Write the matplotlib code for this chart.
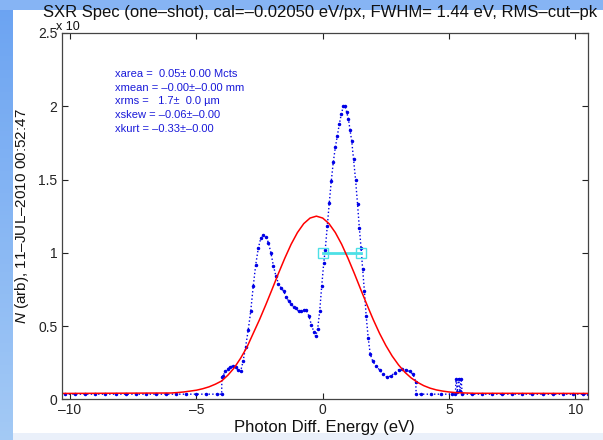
import numpy as np
import matplotlib
matplotlib.use("Agg")
from matplotlib import pyplot as plt
from matplotlib.patches import Rectangle

plt.rcParams['font.family'] = ['Liberation Sans', 'DejaVu Sans']
plt.rcParams['mathtext.fontset'] = 'custom'
plt.rcParams['mathtext.it'] = 'Liberation Sans:italic'
plt.rcParams['mathtext.rm'] = 'Liberation Sans'

# measured spectrum (units of 1e4 counts)
base_left_x = [-10.2, -9.8, -9.4, -9.0, -8.6, -8.2, -7.8, -7.4, -7.0, -6.6, -6.2,
               -5.8, -5.4, -5.0, -4.6, -4.2, -4.0]
base_left_y = [0.035] * len(base_left_x)

peak_x = [-3.99, -3.95, -3.85, -3.75, -3.65, -3.55, -3.45, -3.35, -3.25, -3.15,
          -3.05, -2.95, -2.85, -2.75, -2.65, -2.55, -2.45, -2.35, -2.25, -2.15,
          -2.05, -1.95, -1.85, -1.75, -1.65, -1.55, -1.45, -1.35, -1.25, -1.15,
          -1.05, -0.95, -0.85, -0.75, -0.65, -0.55, -0.45, -0.35, -0.28, -0.20,
          -0.12, -0.04, 0.04, 0.10, 0.18, 0.26, 0.34, 0.42, 0.50, 0.58,
          0.66, 0.74, 0.82, 0.88, 0.95, 1.02, 1.08, 1.15, 1.22, 1.30,
          1.38, 1.45, 1.52, 1.58, 1.65, 1.72, 1.80, 1.88, 1.98, 2.10,
          2.25, 2.40, 2.55, 2.70, 2.85, 3.00, 3.15, 3.30, 3.45, 3.58,
          3.68, 3.70]
peak_y = [0.15, 0.16, 0.19, 0.21, 0.22, 0.23, 0.22, 0.20, 0.19, 0.26,
          0.36, 0.47, 0.60, 0.77, 0.92, 1.03, 1.10, 1.12, 1.11, 1.07,
          1.00, 0.91, 0.84, 0.79, 0.76, 0.74, 0.70, 0.67, 0.65, 0.63,
          0.62, 0.60, 0.60, 0.61, 0.61, 0.57, 0.51, 0.46, 0.43, 0.48,
          0.60, 0.77, 0.93, 1.02, 1.18, 1.34, 1.49, 1.62, 1.72, 1.80,
          1.88, 1.95, 2.00, 2.00, 1.96, 1.91, 1.84, 1.76, 1.64, 1.50,
          1.33, 1.17, 1.03, 0.89, 0.74, 0.57, 0.42, 0.31, 0.26, 0.23,
          0.20, 0.17, 0.15, 0.16, 0.18, 0.20, 0.21, 0.20, 0.19, 0.17,
          0.12, 0.035]

base_right_x = [3.9, 4.3, 4.7, 5.1, 5.25, 5.28, 5.33, 5.38, 5.43, 5.48, 5.52,
                5.9, 6.3, 6.7, 7.1, 7.5, 7.9, 8.3, 8.7, 9.1, 9.5, 9.9, 10.3, 10.5]
base_right_y = [0.035, 0.035, 0.035, 0.035, 0.035, 0.14, 0.05, 0.14, 0.06, 0.14, 0.035,
                0.035, 0.035, 0.035, 0.035, 0.035, 0.035, 0.035, 0.035, 0.035,
                0.035, 0.035, 0.035, 0.035]

# gaussian fit curve
fit_x = [-10.3, -6.0, -5.75, -5.5, -5.25, -5.0, -4.75, -4.5, -4.25, -4.0, -3.75,
         -3.5, -3.25, -3.0, -2.75, -2.5, -2.25, -2.0, -1.75, -1.5, -1.25, -1.0,
         -0.75, -0.5, -0.25, 0.0, 0.25, 0.5, 0.75, 1.0, 1.25, 1.5, 1.75, 2.0,
         2.25, 2.5, 2.75, 3.0, 3.25, 3.5, 3.75, 4.0, 4.25, 4.5, 4.75, 5.0,
         5.25, 5.5, 6.0, 10.5]
fit_y = [0.04, 0.043, 0.046, 0.050, 0.056, 0.062, 0.072, 0.085, 0.103, 0.125, 0.165,
         0.215, 0.280, 0.355, 0.450, 0.544, 0.646, 0.752, 0.860, 0.963, 1.058, 1.138,
         1.199, 1.237, 1.250, 1.237, 1.199, 1.138, 1.058, 0.963, 0.860, 0.752, 0.646, 0.544,
         0.450, 0.367, 0.295, 0.235, 0.185, 0.146, 0.116, 0.093, 0.076, 0.064, 0.056, 0.050,
         0.046, 0.044, 0.041, 0.04]

# FWHM marker
fwhm_x = [0.03, 1.53]
fwhm_y = [1.0, 1.0]

stats = ["xarea =  0.05\u00b1 0.00 Mcts",
         "xmean = \u20130.00\u00b1\u20130.00 mm",
         "xrms =   1.7\u00b1  0.0 \u00b5m",
         "xskew = \u20130.06\u00b1\u20130.00",
         "xkurt = \u20130.33\u00b1\u20130.00"]

fig = plt.figure(figsize=(6.03, 4.40), dpi=100)
fig.patch.set_facecolor('white')

# slide background: gradient strip on the left, bands top and bottom
bg = fig.add_axes([0, 0, 13/603, 1], zorder=-10)
grad = np.linspace(0, 1, 100)[:, None]
top_c = np.array([0.42, 0.64, 0.95])
bot_c = np.array([0.64, 0.79, 0.96])
bg.imshow((top_c + (bot_c - top_c) * grad[:, :, None]) * np.ones((1, 2, 1)),
          aspect='auto', extent=[0, 1, 0, 1])
bg.set_axis_off()
fig.patches.append(Rectangle((0, 1-10/440), 1, 10/440, transform=fig.transFigure,
                             facecolor='#86b4f4', edgecolor='none', zorder=-5))
fig.patches.append(Rectangle((13/603, 0), 1, 7/440, transform=fig.transFigure,
                             facecolor='#eaf0fa', edgecolor='none', zorder=-5))

ax = fig.add_axes([61.7/603, 40.7/440, 526.3/603, 366.3/440])

blue = (0.0, 0.0, 0.9)
bx = base_left_x + peak_x + base_right_x
by = base_left_y + peak_y + base_right_y
ax.plot(bx, by, ':', color=blue, lw=1.0, marker='.', ms=3)
ax.plot(fwhm_x, fwhm_y, '-', color=(0.3, 0.88, 0.9), lw=2, marker='s', ms=7,
        mfc='none', mec=(0.3, 0.88, 0.9))
ax.plot(fit_x, fit_y, '-', color='red', lw=1.1)

ax.set_xlim(-10.33, 10.5)
ax.set_ylim(0, 2.5)
ax.set_xticks([-10, -5, 0, 5, 10])
ax.set_xticklabels(['\u201310', '\u20135', '0', '5', '10'])
ax.set_yticks([0, 0.5, 1, 1.5, 2, 2.5])
ax.set_yticklabels(['0', '0.5', '1', '1.5', '2', '2.5'])
ax.tick_params(direction='in', top=True, right=True, length=4, width=0.8,
               labelsize=10, pad=3, colors='#222222')
for s in ax.spines.values():
    s.set_color('#444444')
    s.set_linewidth(0.9)

ax.set_xlabel('Photon Diff. Energy (eV)', fontsize=12, color='#111111')
ax.xaxis.label.set_va('center')
ax.xaxis.set_label_coords(0.5, -0.078)
ax.set_ylabel('$\\it{N}$ (arb), 11\u2013JUL\u20132010 00:52:47', fontsize=11,
              color='#111111')
ax.yaxis.label.set_va('center')
ax.yaxis.set_label_coords(-0.075, 0.5)

for i, line in enumerate(stats):
    ax.text(0.101, 0.888 - i*0.0375, line, transform=ax.transAxes, fontsize=8,
            color=(0.1, 0.1, 0.85), va='center', ha='left')

fig.text(56/603, 1-27/440, 'x 10', fontsize=9, color='#111111', va='center')
fig.text(43/603, 1-12/440,
         'SXR Spec (one\u2013shot), cal=\u20130.02050 eV/px, FWHM= 1.44 eV, RMS\u2013cut\u2013pk',
         fontsize=12, color='#111111', va='center')

fig.savefig('out.png', dpi=100, facecolor=fig.get_facecolor())
